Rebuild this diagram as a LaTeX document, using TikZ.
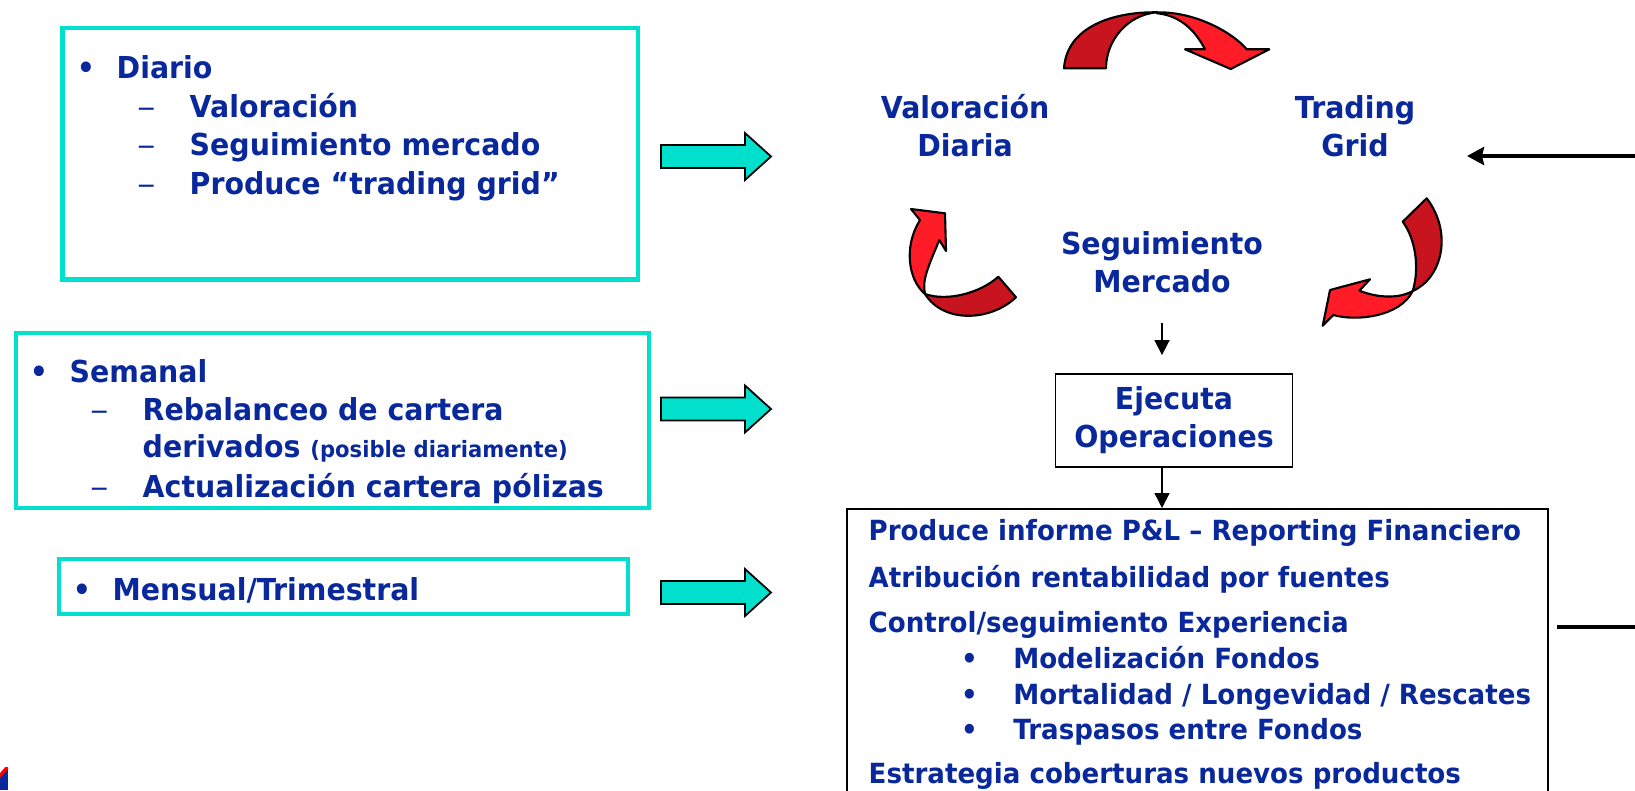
\documentclass[tikz,border=0pt]{standalone}
\usepackage{fontspec}
\usepackage{graphicx}
\setmainfont{DejaVu Sans}[FakeStretch=0.94]
\usetikzlibrary{arrows.meta}
\definecolor{slideblue}{RGB}{8,40,156}
\definecolor{slideteal}{RGB}{0,224,204}
\definecolor{cyclered}{RGB}{255,28,38}
\definecolor{cycledark}{RGB}{200,20,30}
\newcommand{\subdash}{\mdseries\scalebox{1.3}[1]{–}}

\begin{document}
\begin{tikzpicture}[
    txt/.style={inner sep=0pt, text=slideblue, font=\fontsize{8.6}{10.8}\selectfont\bfseries},
    item/.style={txt, anchor=base west},
    bul/.style={txt, anchor=base},
    repitem/.style={item, font=\fontsize{7.9}{9.5}\selectfont\bfseries},
    repbul/.style={bul, font=\fontsize{7.9}{9.5}\selectfont\bfseries},
    tealbox/.style={draw=slideteal, line width=1.2pt},
    blockarrow/.style={draw=black, line width=0.5pt, fill=slideteal},
    curvlight/.style={draw=black, line width=0.6pt, fill=cyclered, line join=round},
    curvdark/.style={curvlight, fill=cycledark},
    flow/.style={-{Triangle[length=0.15cm, width=0.15cm]}, line width=0.45pt},
    loopline/.style={line width=1pt},
]
    \useasboundingbox (0,0) rectangle (16.35,7.90);

    % left boxes
    \draw[tealbox] (0.625,5.105) rectangle (6.38,7.62);
    \draw[tealbox] (0.16,2.82) rectangle (6.49,4.57);
    \draw[tealbox] (0.59,1.76) rectangle (6.28,2.31);

    \node[bul] (bdiario) at (0.86,7.12) {•};
    \node[item] (diario) at (1.16,7.12) {Diario};
    \node[bul] (dvalor) at (1.47,6.73) {\subdash};
    \node[item] (valor) at (1.89,6.73) {Valoración};
    \node[bul] (dmercado) at (1.47,6.35) {\subdash};
    \node[item] (mercado) at (1.89,6.35) {Seguimiento mercado};
    \node[bul] (dgrid) at (1.47,5.96) {\subdash};
    \node[item] (grid) at (1.89,5.96) {Produce “trading grid”};

    \node[bul] (bsemanal) at (0.39,4.08) {•};
    \node[item] (semanal) at (0.69,4.08) {Semanal};
    \node[bul] (drebal) at (1.00,3.70) {\subdash};
    \node[item] (rebal) at (1.42,3.70) {Rebalanceo de cartera};
    \node[item] (deriv) at (1.42,3.33) {derivados {\fontsize{6.4}{7.5}\selectfont(posible diariamente)}};
    \node[bul] (dpolizas) at (1.00,2.93) {\subdash};
    \node[item] (polizas) at (1.42,2.93) {Actualización cartera pólizas};

    \node[bul] (bmensual) at (0.82,1.90) {•};
    \node[item] (mensual) at (1.12,1.90) {Mensual/Trimestral};

    % block arrows
    \foreach \y in {6.335, 3.81, 1.975}
        \draw[blockarrow] (6.61,{\y-0.115}) -- (7.45,{\y-0.115}) -- (7.45,{\y-0.235})
            -- (7.71,\y) -- (7.45,{\y+0.235}) -- (7.45,{\y+0.115}) -- (6.61,{\y+0.115}) -- cycle;

    % cycle
    \node[txt, align=center] (valdia) at (9.65,6.645) {Valoración\\Diaria};
    \node[txt, align=center] (trading) at (13.55,6.638) {Trading\\Grid};
    \node[txt, align=center] (seguim) at (11.62,5.28) {Seguimiento\\Mercado};

    \draw[curvdark] (10.64,7.217) .. controls (10.667,7.633) and (11.133,7.783) .. (11.567,7.777)
        .. controls (11.267,7.75) and (11.06,7.49) .. (11.06,7.217) -- cycle;
    \draw[curvlight] (11.567,7.777) .. controls (11.967,7.783) and (12.333,7.567) .. (12.467,7.407)
        -- (12.693,7.407) -- (12.307,7.21) -- (11.85,7.407) -- (12.05,7.407)
        .. controls (11.933,7.633) and (11.767,7.75) .. (11.567,7.767) -- cycle;

    \draw[curvdark] (9.25,4.96) .. controls (9.467,4.883) and (9.80,4.967) .. (9.983,5.133)
        -- (10.16,4.927) .. controls (9.90,4.683) and (9.433,4.667) .. (9.25,4.96) -- cycle;
    \draw[curvlight] (9.20,5.70) -- (9.11,5.81) -- (9.45,5.767) -- (9.46,5.39) -- (9.393,5.50)
        .. controls (9.283,5.233) and (9.217,5.10) .. (9.25,4.96)
        .. controls (9.083,5.10) and (9.033,5.433) .. (9.20,5.70) -- cycle;

    \draw[curvdark] (14.127,4.99) .. controls (14.417,5.117) and (14.533,5.567) .. (14.267,5.917)
        -- (14.027,5.683) .. controls (14.15,5.517) and (14.20,5.233) .. (14.127,4.99) -- cycle;
    \draw[curvlight] (14.127,4.99) .. controls (14.00,4.733) and (13.567,4.683) .. (13.333,4.75)
        -- (13.227,4.643) -- (13.30,5.00) -- (13.70,5.107) -- (13.593,4.993)
        .. controls (13.833,4.90) and (14.033,4.933) .. (14.127,4.99) -- cycle;

    % flow down
    \node[txt, draw=black, line width=0.5pt, minimum width=2.37cm, minimum height=0.927cm,
        align=center] (ejecuta) at (11.74,3.697) {Ejecuta\\Operaciones};
    \node[draw=black, line width=0.5pt, minimum width=7.01cm, minimum height=3.4cm,
        anchor=north] (informe) at (11.975,2.82) {};
    \draw[flow, shorten <=0.30cm, shorten >=0.18cm] (seguim.south) -- (seguim.south |- ejecuta.north);
    \draw[flow] (seguim.south |- ejecuta.south) -- (seguim.south |- informe.north);

    \node[repitem] (pyl) at (8.68,2.50) {Produce informe P\&L – Reporting Financiero};
    \node[repitem] (atrib) at (8.68,2.03) {Atribución rentabilidad por fuentes};
    \node[repitem] (control) at (8.68,1.58) {Control/seguimiento Experiencia};
    \node[repbul] (bfondos) at (9.695,1.22) {•};
    \node[repitem] (fondos) at (10.126,1.22) {Modelización Fondos};
    \node[repbul] (bmortal) at (9.695,0.86) {•};
    \node[repitem] (mortal) at (10.126,0.86) {Mortalidad / Longevidad / Rescates};
    \node[repbul] (btrasp) at (9.695,0.51) {•};
    \node[repitem] (trasp) at (10.126,0.51) {Traspasos entre Fondos};
    \node[repitem] (estrat) at (8.68,0.07) {Estrategia coberturas nuevos productos};

    % loop at the right edge
    \coordinate (loopin) at (16.40,6.34);
    \coordinate (gridtip) at (14.67,6.34);
    \coordinate (loopout) at (16.40,1.63);
    \draw[loopline, -{Stealth[length=0.17cm, width=0.18cm, inset=0.02cm]}] (loopin) -- (gridtip);
    \draw[loopline, shorten <=0.08cm] (informe.east |- loopout) -- (loopout);

    % logo corner
    \fill[slideblue] (0,0) rectangle (0.08,0.23);
    \fill[red] (0,0.12) -- (0.08,0.21) -- (0.08,0.23) -- (0.05,0.23) -- (0,0.17) -- cycle;
    \fill[white] (0,0.17) -- (0.05,0.23) -- (0,0.23) -- cycle;
\end{tikzpicture}
\end{document}
